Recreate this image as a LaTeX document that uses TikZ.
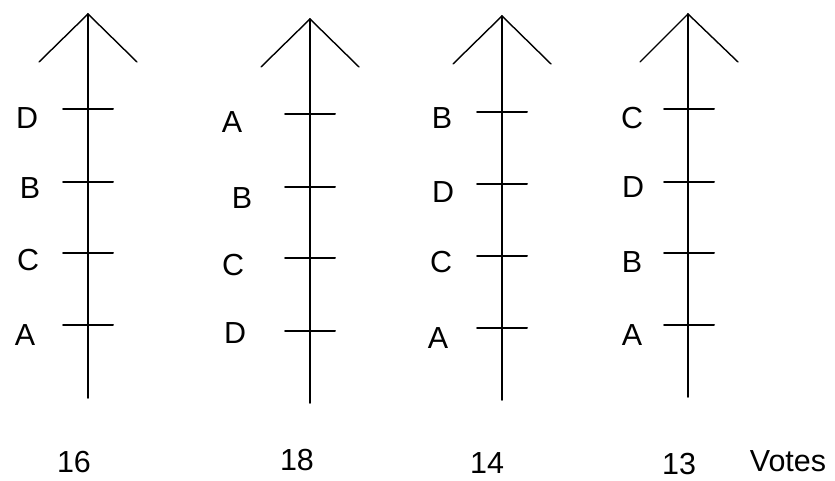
\documentclass[tikz,border=0pt]{standalone}
\usepackage{fontspec}
\setmainfont{Liberation Sans}
\usetikzlibrary{calc}

\begin{document}
\begin{tikzpicture}[x=0.03cm,y=0.03cm,line cap=round,line join=round]
\path[use as bounding box] (0,0) rectangle (835,481);
\tikzset{axisline/.style={line width=1.7pt},
  wingline/.style={line width=1.2pt},
  lbl/.style={inner sep=0pt,font=\fontsize{26}{30}\selectfont}}

% first voter group
\coordinate (T1) at (88,467);
\coordinate (B1) at (88,83);
\coordinate (L1) at (39,419);
\coordinate (R1) at (137,419);
\draw[axisline] (B1) -- (T1);
\draw[wingline] (L1) -- (T1) -- (R1);
\foreach \y in {372,299,228,156}{\draw[axisline] (63,\y) -- (113,\y);}
\node[lbl] (d1) at (27,363) {D};
\node[lbl] (b1) at (30,293) {B};
\node[lbl] (c1) at (28,221) {C};
\node[lbl] (a1) at (25,146) {A};
\node[lbl] (n1) at (74,19) {16};

% second voter group
\coordinate (T2) at (310,462);
\coordinate (B2) at (310,78);
\coordinate (L2) at (261,414);
\coordinate (R2) at (359,414);
\draw[axisline] (B2) -- (T2);
\draw[wingline] (L2) -- (T2) -- (R2);
\foreach \y in {367,294,223,150}{\draw[axisline] (285,\y) -- (335,\y);}
\node[lbl] (a2) at (232,359) {A};
\node[lbl] (b2) at (242,283) {B};
\node[lbl] (c2) at (233,216) {C};
\node[lbl] (d2) at (235,148) {D};
\node[lbl] (n2) at (297,21) {18};

% third voter group
\coordinate (T3) at (502,465);
\coordinate (B3) at (502,81);
\coordinate (L3) at (453,417);
\coordinate (R3) at (551,417);
\draw[axisline] (B3) -- (T3);
\draw[wingline] (L3) -- (T3) -- (R3);
\foreach \y in {369,297,225,153}{\draw[axisline] (477,\y) -- (527,\y);}
\node[lbl] (b3) at (442,363) {B};
\node[lbl] (d3) at (443,289) {D};
\node[lbl] (c3) at (441,219) {C};
\node[lbl] (a3) at (438,143) {A};
\node[lbl] (n3) at (487,18) {14};

% fourth voter group
\coordinate (T4) at (688,467);
\coordinate (B4) at (688,84);
\coordinate (L4) at (640,419);
\coordinate (R4) at (738,419);
\draw[axisline] (B4) -- (T4);
\draw[wingline] (L4) -- (T4) -- (R4);
\foreach \y in {372,299,228,156}{\draw[axisline] (664,\y) -- (714,\y);}
\node[lbl] (c4) at (632,363) {C};
\node[lbl] (d4) at (633,294) {D};
\node[lbl] (b4) at (632,219) {B};
\node[lbl] (a4) at (632,146) {A};
\node[lbl] (n4) at (679,17) {13};

\node[lbl] (votes) at (788,20) {Votes};
\end{tikzpicture}
\end{document}
